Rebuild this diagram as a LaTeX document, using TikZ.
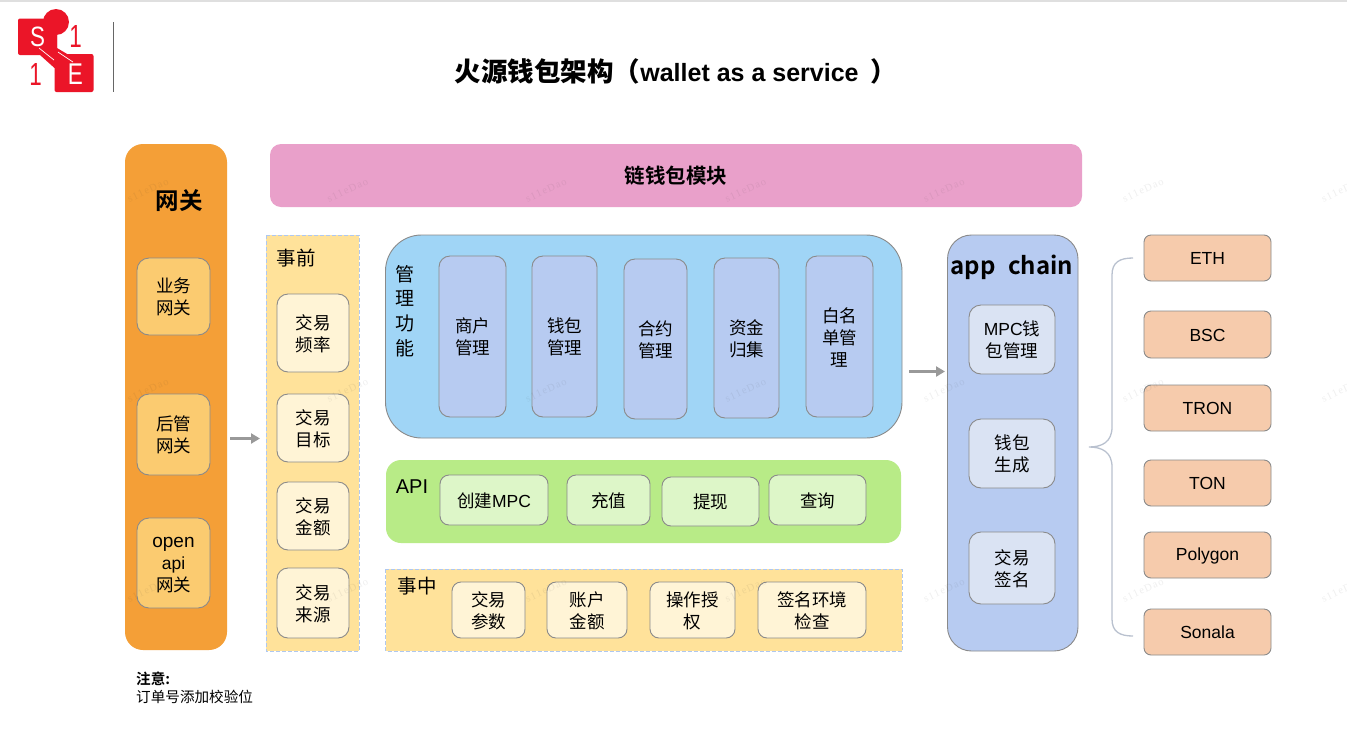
\documentclass[tikz,border=0pt]{standalone}
\usepackage{fontspec}
\setmainfont{Liberation Sans}
\newfontfamily\cjk{Noto Sans CJK SC}
\newfontfamily\cjkb{Noto Sans CJK SC Bold}
\newfontfamily\wmfont[LetterSpace=12]{Liberation Serif}
\usetikzlibrary{arrows.meta}
\definecolor{gwo}{HTML}{F49F37}
\definecolor{gwi}{HTML}{FBCB70}
\definecolor{pinkb}{HTML}{E9A0CA}
\definecolor{yel}{HTML}{FFE29A}
\definecolor{crm}{HTML}{FFF4D6}
\definecolor{blu}{HTML}{A0D5F6}
\definecolor{per}{HTML}{B7CBF1}
\definecolor{grn}{HTML}{B8EB87}
\definecolor{lgn}{HTML}{DDF6C8}
\definecolor{lbl}{HTML}{DAE3F3}
\definecolor{pch}{HTML}{F6CBAC}
\definecolor{red1}{HTML}{EB1528}
\definecolor{edge}{HTML}{8A8A8A}
\definecolor{dashc}{HTML}{AFC8F0}
\definecolor{bracec}{HTML}{B9C1CF}
\definecolor{arrc}{HTML}{999999}
\newcommand{\lat}[1]{{\rmfamily #1}}
\tikzset{
 x=1pt,y=-1pt,
 every node/.style={font=\fontsize{17.5}{22}\selectfont\cjk,align=center,inner sep=0pt,text=black},
 box/.style={draw=edge,line width=0.9pt,rounded corners=#1},
 box/.default=11pt,
 plain/.style={rounded corners=#1},
 dashbox/.style={draw=dashc,line width=1pt,dash pattern=on 4pt off 2pt},
 arr/.style={draw=arrc,line width=2.6pt,-{Triangle[length=9pt,width=10pt]}},
 logotext/.style={font=\fontsize{#1}{#1}\selectfont\rmfamily},
 watermark/.style={rotate=25,opacity=.08,text=black!80,font=\fontsize{10.5}{11}\selectfont\wmfont},
}
\newcommand{\rb}[8]{\path[#1,fill=#2] (#3,#4) rectangle (#5,#6) node[midway,yshift=-0.7pt,text=black] (#7) {#8};}
\begin{document}
\begin{tikzpicture}
\useasboundingbox (0,0) rectangle (1347,729);
\fill[white] (0,0) rectangle (1347,729);
\fill[gray!25] (0,0) rectangle (1347,1.5);
% logo
\fill[red1,rounded corners=2pt] (18,18.5) rectangle (57,55);
\fill[red1] (56,22) circle (13);
\fill[red1] (57,30) -- (57,48) -- (68,54.5) -- (68,60) -- (54.5,68) -- (40,55) -- cycle;
\fill[red1,rounded corners=2pt] (54.5,54) rectangle (93.5,92);
\node[text=white,logotext=28] (lS) at (37.5,37) {\scalebox{.8}[1]{S}};
\node[text=white,logotext=30] (lE) at (75.5,74) {\scalebox{.75}[1]{E}};
\node[text=red1,logotext=32] (l1) at (75.5,36.5) {\scalebox{.7}[1]{1}};
\node[text=red1,logotext=32] (l2) at (35.5,74) {\scalebox{.7}[1]{1}};
\draw[white,line width=0.7pt] (39,48) -- (54,60) (58,52) -- (73,62);
\draw[gray!80!black,line width=1pt] (113,22) -- (113,92);
% title
\node[font=\fontsize{25}{25}\selectfont\rmfamily\bfseries] (title) at (676,71.5) {{\fontsize{26.5}{26.5}\selectfont\cjkb 火源钱包架构（}wallet as a service\hspace{12pt}{\fontsize{26.5}{26.5}\selectfont\cjkb ）}};
% gateway
\path[plain=18pt,fill=gwo] (125,144) rectangle (227,650);
\node[font=\fontsize{23.5}{24}\selectfont\cjkb] (gw) at (179,201) {网关};
\rb{box=12pt}{gwi}{137}{258}{210}{335}{g1}{业务\\网关}
\rb{box=12pt}{gwi}{137}{394}{210}{475}{g2}{后管\\网关}
\path[box=12pt,fill=gwi] (137,518) rectangle (210,608);
\node (g3) at (173.5,565) {\fontsize{19}{21}\selectfont\lat{open}\\\lat{api}\\网关};
% chain wallet module
\path[plain=11pt,fill=pinkb] (270,144) rectangle (1082,207);
\node[font=\fontsize{20.5}{21}\selectfont\cjkb] (mod) at (676,176) {链钱包模块};
% pre
\path[dashbox,fill=yel] (266,235) rectangle (359,651);
\node[font=\fontsize{19.5}{20}\selectfont\cjk] (pre) at (296,258) {事前};
\rb{box=11pt}{crm}{277}{294}{349}{372}{p1}{交易\\频率}
\rb{box=11pt}{crm}{277}{394}{349}{462}{p2}{交易\\目标}
\rb{box=11pt}{crm}{277}{482}{349}{550}{p3}{交易\\金额}
\rb{box=11pt}{crm}{277}{568}{349}{638}{p4}{交易\\来源}
% arrows
\coordinate (a1s) at (230,438.5);
\coordinate (a1e) at (260,438.5);
\draw[arr] (a1s) -- (a1e);
% mgmt
\path[box=36pt,fill=blu] (385.5,235) rectangle (902,438);
\node[font=\fontsize{19}{24.7}\selectfont\cjk] (mg) at (405,311) {管\\理\\功\\能};
\rb{box=11pt}{per}{439}{256}{506}{417}{m1}{商户\\管理}
\rb{box=11pt}{per}{532}{256}{597}{417}{m2}{钱包\\管理}
\rb{box=11pt}{per}{624}{259}{687}{419}{m3}{合约\\管理}
\rb{box=11pt}{per}{714}{258}{779}{418}{m4}{资金\\归集}
\rb{box=11pt}{per}{806}{256}{873}{417}{m5}{白名\\单管\\理}
% API
\path[plain=15pt,fill=grn] (386,460) rectangle (901,543);
\node[font=\fontsize{20}{20}\selectfont\rmfamily] (api) at (412,487) {API};
\rb{box=9pt}{lgn}{440}{475}{548}{525}{a1}{创建\lat{MPC}}
\rb{box=9pt}{lgn}{567}{475}{650}{525}{a2}{充值}
\rb{box=9pt}{lgn}{662}{477}{759}{526}{a3}{提现}
\rb{box=9pt}{lgn}{769}{475}{866}{525}{a4}{查询}
% mid
\path[dashbox,fill=yel] (385.5,569) rectangle (902,651);
\node[font=\fontsize{19.5}{20}\selectfont\cjk] (mid) at (417,586) {事中};
\rb{box=9pt}{crm}{452}{582}{525}{638}{c1}{交易\\参数}
\rb{box=9pt}{crm}{547}{582}{627}{638}{c2}{账户\\金额}
\rb{box=9pt}{crm}{650}{582}{735}{638}{c3}{操作授\\权}
\rb{box=9pt}{crm}{758}{582}{866}{638}{c4}{签名环境\\检查}
\coordinate (a2s) at (909,371.5);
\coordinate (a2e) at (945,371.5);
\draw[arr] (a2s) -- (a2e);
% app chain
\path[box=24pt,fill=per] (947.5,235) rectangle (1078,651);
\node[font=\fontsize{24}{24}\selectfont\cjkb] (ac) at (1012,267) {app\hspace{7pt} chain};
\rb{box=12pt}{lbl}{969}{305}{1055}{374}{b1}{\lat{MPC}钱\\包管理}
\rb{box=12pt}{lbl}{969}{419}{1055}{488}{b2}{钱包\\生成}
\rb{box=12pt}{lbl}{969}{532}{1055}{604}{b3}{交易\\签名}
% chains
\rb{box=7pt}{pch}{1144}{235}{1271}{281}{e1}{\fontsize{17.5}{20}\selectfont\lat{ETH}}
\rb{box=7pt}{pch}{1144}{311}{1271}{358}{e2}{\fontsize{17.5}{20}\selectfont\lat{BSC}}
\rb{box=7pt}{pch}{1144}{385}{1271}{431}{e3}{\fontsize{17.5}{20}\selectfont\lat{TRON}}
\rb{box=7pt}{pch}{1144}{460}{1271}{506}{e4}{\fontsize{17.5}{20}\selectfont\lat{TON}}
\path[box=7pt,fill=pch] (1144,532) rectangle (1271,578);
\node (e5) at (1207.5,556) {\fontsize{17.5}{20}\selectfont\lat{Polygon}};
\rb{box=7pt}{pch}{1144}{609}{1271}{655}{e6}{\fontsize{17.5}{20}\selectfont\lat{Sonala}}
% brace
\draw[draw=bracec,line width=1.3pt] (1133,258) .. controls (1120,258) and (1112,262) .. (1112,275) -- (1112,427) .. controls (1112,442) and (1102,447) .. (1089,447) .. controls (1102,447) and (1112,452) .. (1112,467) -- (1112,619) .. controls (1112,632) and (1120,636) .. (1133,636);
% note
\node[anchor=west,font=\fontsize{14.6}{15}\selectfont\cjkb] (n1) at (136,679) {注意:};
\node[anchor=west,font=\fontsize{14.6}{15}\selectfont\cjk] (n2) at (136,697) {订单号添加校验位};
% watermark
\begin{scope}
\clip (0,0) rectangle (1347,729);
\foreach \wx in {148,347.5,546,745.5,944,1143,1342}
 \foreach \wy in {190,390,590}
  \node[watermark] (wm\wx-\wy) at (\wx,\wy) {s11eDao};
\end{scope}
\end{tikzpicture}
\end{document}
